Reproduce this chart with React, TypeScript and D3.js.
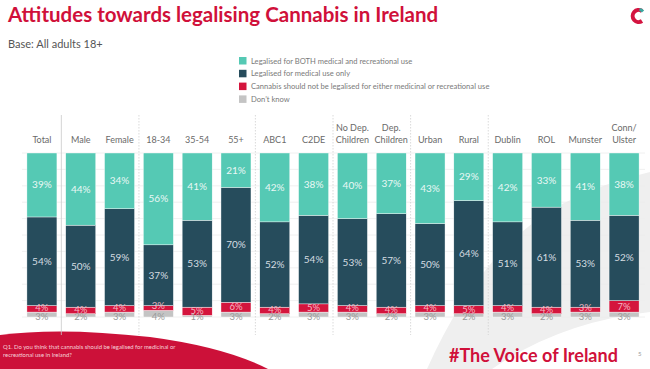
import React from "react";
import * as d3 from "d3";

const categories = ["Total","Male","Female","18-34","35-54","55+","ABC1","C2DE","No Dep.\nChildren","Dep.\nChildren","Urban","Rural","Dublin","ROL","Munster","Conn/\nUlster"];
const both = [39,44,34,56,41,21,42,38,40,37,43,29,42,33,41,38];
const medical = [54,50,59,37,53,70,52,54,53,57,50,64,51,61,53,52];
const notLegal = [4,4,4,3,5,6,4,5,4,4,4,5,4,4,3,7];
const dontKnow = [3,2,3,4,1,3,2,3,3,2,3,2,3,2,3,3];
const seriesNames = ["Legalised for BOTH medical and recreational use","Legalised for medical use only","Cannabis should not be legalised for either medicinal or recreational use","Don\u2019t know"];
const dividersAfter = [0,2,5,7,9,11];

const W = 650, H = 369;
const FONT = "Lato, 'Open Sans', sans-serif";
const COLORS = { dk: "#c4c4c4", no: "#d4153d", med: "#264c5c", both: "#55c9b4" };

export default function App() {
  const x = d3.scaleBand<string>().domain(categories).range([22.5, 643.5]).paddingInner(0.227).paddingOuter(0.114);
  const y = d3.scaleLinear().domain([0, 100]).range([317, 153]);
  const rows = categories.map((c, i) => ({ c, dk: dontKnow[i], no: notLegal[i], med: medical[i], both: both[i] }));
  const keys = ["dk", "no", "med", "both"] as const;
  const stack = d3.stack<any>().keys(keys as any)(rows);
  const bw = x.bandwidth();
  const step = x.step();
  const labelColor: Record<string, string> = { dk: "#9a9a9a", no: "#f4b8c4", med: "#d5dde1", both: "#eaf8f5" };
  const legendColors = [COLORS.both, COLORS.med, COLORS.no, COLORS.dk];

  return (
    <svg width={W} height={H} style={{ position: "absolute", left: 0, top: 0, fontFamily: FONT }}>
      <rect width={W} height={H} fill="#ffffff" />
      {/* background swoosh */}
      <path d="M427,369 Q480,250 560,205 Q605,182 650,172 L650,312 Q560,322 492,369 Z" fill="#efefef" />
      {/* footer red shape */}
      <path d="M0,335 Q60,327 150,337 Q225,347 268,369 L0,369 Z" fill="#cc1139" />
      <text x={3} y={349} fontSize={5.9} fill="#f6d0d8">Q1. Do you think that cannabis should be legalised for medicinal or</text>
      <text x={3} y={357} fontSize={5.9} fill="#f6d0d8">recreational use in Ireland?</text>
      <text x={449} y={362} fontSize={18} fontWeight={700} fill="#d0103a">#The Voice of Ireland</text>
      <text x={638} y={356} fontSize={6} fill="#999">5</text>

      {/* title */}
      <text x={8} y={22} fontSize={20.5} fontWeight={700} fill="#d0103a">Attitudes towards legalising Cannabis in Ireland</text>
      <text x={8} y={48} fontSize={11} fill="#555">Base: All adults 18+</text>
      {/* logo */}
      <path d="M642,11 A6,6 0 1,0 642,21" fill="none" stroke="#d41440" strokeWidth={4} />
      <path d="M639.5,9.5 A6,6 0 0,1 643,11.5" fill="none" stroke="#3aa8a0" strokeWidth={3} />

      {/* legend */}
      {seriesNames.map((s, i) => (
        <g key={s} transform={`translate(239,${57 + i * 12.8})`}>
          <rect width={7.5} height={7.5} fill={legendColors[i]} />
          <text x={12} y={6.5} fontSize={7.6} fill="#7a7a7a">{s}</text>
        </g>
      ))}

      {/* gridlines */}
      {d3.range(0, 101, 10).map((t) => (
        <line key={t} x1={22} x2={645} y1={y(t)} y2={y(t)} stroke="#ececec" strokeWidth={0.8} />
      ))}
      {/* dividers */}
      {dividersAfter.map((i, k) => {
        const xx = (x(categories[i]) as number) + bw + (step - bw) / 2;
        return <line key={i} x1={xx} x2={xx} y1={115} y2={335} stroke={k === 0 ? "#c8c8c8" : "#d0d0d0"} strokeWidth={0.8} strokeDasharray={k === 0 ? undefined : "1.5,1.5"} />;
      })}

      {/* category labels */}
      {categories.map((c) => {
        const lines = c.split("\n");
        const cx = (x(c) as number) + bw / 2;
        return (
          <text key={c} x={cx} textAnchor="middle" fontSize={9} fill="#6a6a6a">
            {lines.map((l, j) => (
              <tspan key={j} x={cx} y={143 - (lines.length - 1 - j) * 12.5}>{l}</tspan>
            ))}
          </text>
        );
      })}

      {/* bars */}
      {stack.map((layer) => (
        <g key={layer.key}>
          {layer.map((d, i) => (
            <rect key={i} x={x(categories[i])} width={bw} y={y(d[1])} height={y(d[0]) - y(d[1])} fill={(COLORS as any)[layer.key]} stroke="#ffffff" strokeWidth={0.4} />
          ))}
        </g>
      ))}
      {/* labels */}
      {stack.map((layer) => (
        <g key={layer.key + "l"}>
          {layer.map((d, i) => {
            const v = d[1] - d[0];
            let cy = (y(d[0]) + y(d[1])) / 2;
            if (layer.key === "dk") cy = y(d[0]) - 0.5;
            if (layer.key === "no") cy = Math.min(cy, y(d[0]) - 4.5);
            return (
              <text key={i} x={(x(categories[i]) as number) + bw / 2} y={cy} dy="0.35em" textAnchor="middle" fontSize={layer.key === "dk" || layer.key === "no" ? 9.5 : 10} fill={labelColor[layer.key]}>{v}%</text>
            );
          })}
        </g>
      ))}
    </svg>
  );
}
